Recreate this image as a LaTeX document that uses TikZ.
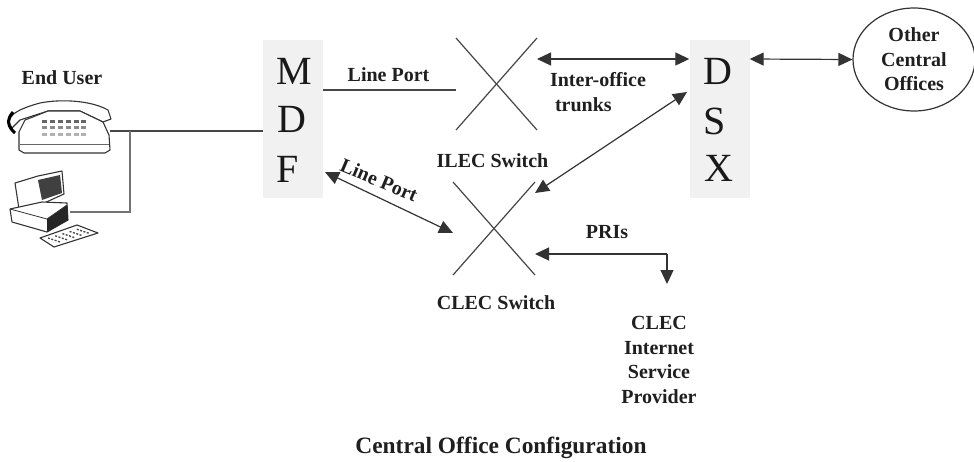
\documentclass[tikz,border=0pt]{standalone}
\usepackage{fontspec}
\setmainfont{Liberation Serif}
\usetikzlibrary{arrows.meta,shapes.geometric,calc}
\definecolor{boxgrey}{RGB}{241,241,241}
\definecolor{linegrey}{RGB}{70,70,70}
\tikzset{
  lab/.style={font=\bfseries\fontsize{20}{24.5}\selectfont,align=center,inner sep=0pt,text=black!88},
  titlelab/.style={font=\bfseries\fontsize{23.4}{28}\selectfont,align=center,inner sep=0pt,text=black!88},
  bigtxt/.style={font=\fontsize{40}{46}\selectfont,inner sep=0pt,text=black!90},
  panel/.style={fill=boxgrey,draw=none,minimum width=60pt,minimum height=158pt,inner sep=0pt},
  wire/.style={draw=linegrey,line width=1.2pt},
  both/.style={draw=black!80,line width=1.2pt,{Triangle[length=14pt,width=13pt]}-{Triangle[length=14pt,width=13pt]}},
  oneend/.style={draw=black!80,line width=1.2pt,-{Triangle[length=14pt,width=13pt]}},
  icon/.style={draw=black!80,line width=1.1pt,fill=white,line join=round},
}
\begin{document}
\begin{tikzpicture}[x=1pt,y=-1pt]
\useasboundingbox (0,0) rectangle (974,461);
\fill[white] (0,0) rectangle (974,461);
% panels
\node[panel] (mdf) at (293,119) {};
\node[panel] (dsx) at (719.5,118.5) {};
\node[bigtxt] (m) at (294,71) {M};
\node[bigtxt] (d) at (292,119) {D};
\node[bigtxt] (f) at (288,169) {F};
\node[bigtxt] (d2) at (718,71) {D};
\node[bigtxt] (s) at (715,121.5) {S};
\node[bigtxt] (x2) at (719,168) {X};
% other offices
\node[ellipse,draw=black!80,line width=1.2pt,minimum width=122pt,minimum height=103pt,inner sep=0pt,
      lab,fill=white] (other) at (914,59.5) {Other\\Central\\Offices};
% switch crosses
\coordinate (i1) at (456,38); \coordinate (i2) at (537,130);
\coordinate (i3) at (537,38); \coordinate (i4) at (456,130);
\coordinate (c1) at (453,182); \coordinate (c2) at (535,275);
\coordinate (c3) at (535,182); \coordinate (c4) at (453,275);
\draw[wire] (i1) -- (i2);
\draw[wire] (i3) -- (i4);
\draw[wire] (c1) -- (c2);
\draw[wire] (c3) -- (c4);
% phone
\coordinate (ph) at (110,131);
\coordinate (pc) at (70,212);
\coordinate (jn) at (130,131);
\coordinate (jc) at (130,212);
\draw[icon] (12,128) .. controls (4,118) and (14,110) .. (40,103)
  .. controls (60,99) and (90,100) .. (108,110) -- (111,119)
  -- (103,122) -- (80,111) -- (48,111) -- (20,120) -- cycle;
\draw[icon] (48,111) -- (80,111) -- (103,122) -- (109,135) -- (110,150) -- (105,153) -- (24,153) -- (19,150) -- (19,132) -- (25,120) -- cycle;
\draw[draw=black!60,line width=0.7pt] (20,144) -- (109,144);
\draw[black,line width=3pt] (13,112) .. controls (6,120) and (8,127) .. (15,133);
\foreach \yy/\cc in {120/black!60,133/black!30}{
  \foreach \xx in {42,50,58,66,74,81}{
    \fill[\cc] (\xx,\yy) rectangle +(5,2.5);
  }}
\foreach \xx in {42,50,58,66,74,81}{\fill[black!45] (\xx,126) rectangle +(5,2.5);}
% computer
\draw[icon] (15,183) -- (38,176) -- (62,171) -- (64,194) -- (42,204) -- (19,209) -- cycle;
\fill[black!75] (38,180) -- (60,175) -- (62,193) -- (42,200) -- cycle;
\draw[icon] (10,209) -- (42,202) -- (67,203) -- (68,220) -- (47,232) -- (12,222) -- cycle;
\fill[black!85] (47,219) -- (67,205) -- (68,220) -- (47,232) -- cycle;
\draw[draw=black!80,line width=0.8pt] (10,209) -- (47,219) -- (67,205);
\draw[icon] (40,238) -- (77,225) -- (98,233) -- (54,247) -- cycle;
\foreach \t in {0,0.2,0.4,0.6,0.8}{
  \draw[black!70,line width=1.4pt,dash pattern=on 2pt off 1.5pt] ($(48,238)+(\t*36,-\t*11)$) -- +(12,4);
}
% wires
\draw[wire] (ph) -- (mdf.west |- ph);
\draw[wire,draw=black!55,line width=1.4pt] (jn) -- (jc) -- (pc);
\coordinate (lp) at (456,90);
\draw[wire] (mdf.east |- lp) -- (lp);
% arrows
\coordinate (tr) at (537,59);
\draw[both] (tr) -- (dsx.west |- tr);
\draw[both] (dsx.east |- tr) -- (other.west);
\coordinate (a1) at (325,172); \coordinate (a2) at (453,233);
\draw[both] (a1) -- (a2);
\coordinate (a3) at (535,193); \coordinate (a4) at (687,92);
\draw[both] (a3) -- (a4);
\coordinate (p1) at (535,254); \coordinate (p2) at (667,254); \coordinate (p3) at (667,284);
\draw[oneend] (p2) -- (p1);
\draw[oneend] (p2) -- (p3);
% labels
\node[lab] (eu) at (62,78) {End User};
\node[lab] (lp1) at (388.5,75) {Line Port};
\node[lab,rotate=-23] (lp2) at (379,180) {Line Port};
\node[lab,align=left] (io) at (598,92) {Inter-office\\\hspace{5pt}trunks};
\node[lab] (il) at (492.5,161) {ILEC Switch};
\node[lab] (cl) at (496,303) {CLEC Switch};
\node[lab] (pr) at (607,232) {PRIs};
\node[lab] (isp) at (659,360) {CLEC\\Internet\\Service\\Provider};
\node[titlelab] (ti) at (501,448) {Central Office Configuration};
\end{tikzpicture}
\end{document}
